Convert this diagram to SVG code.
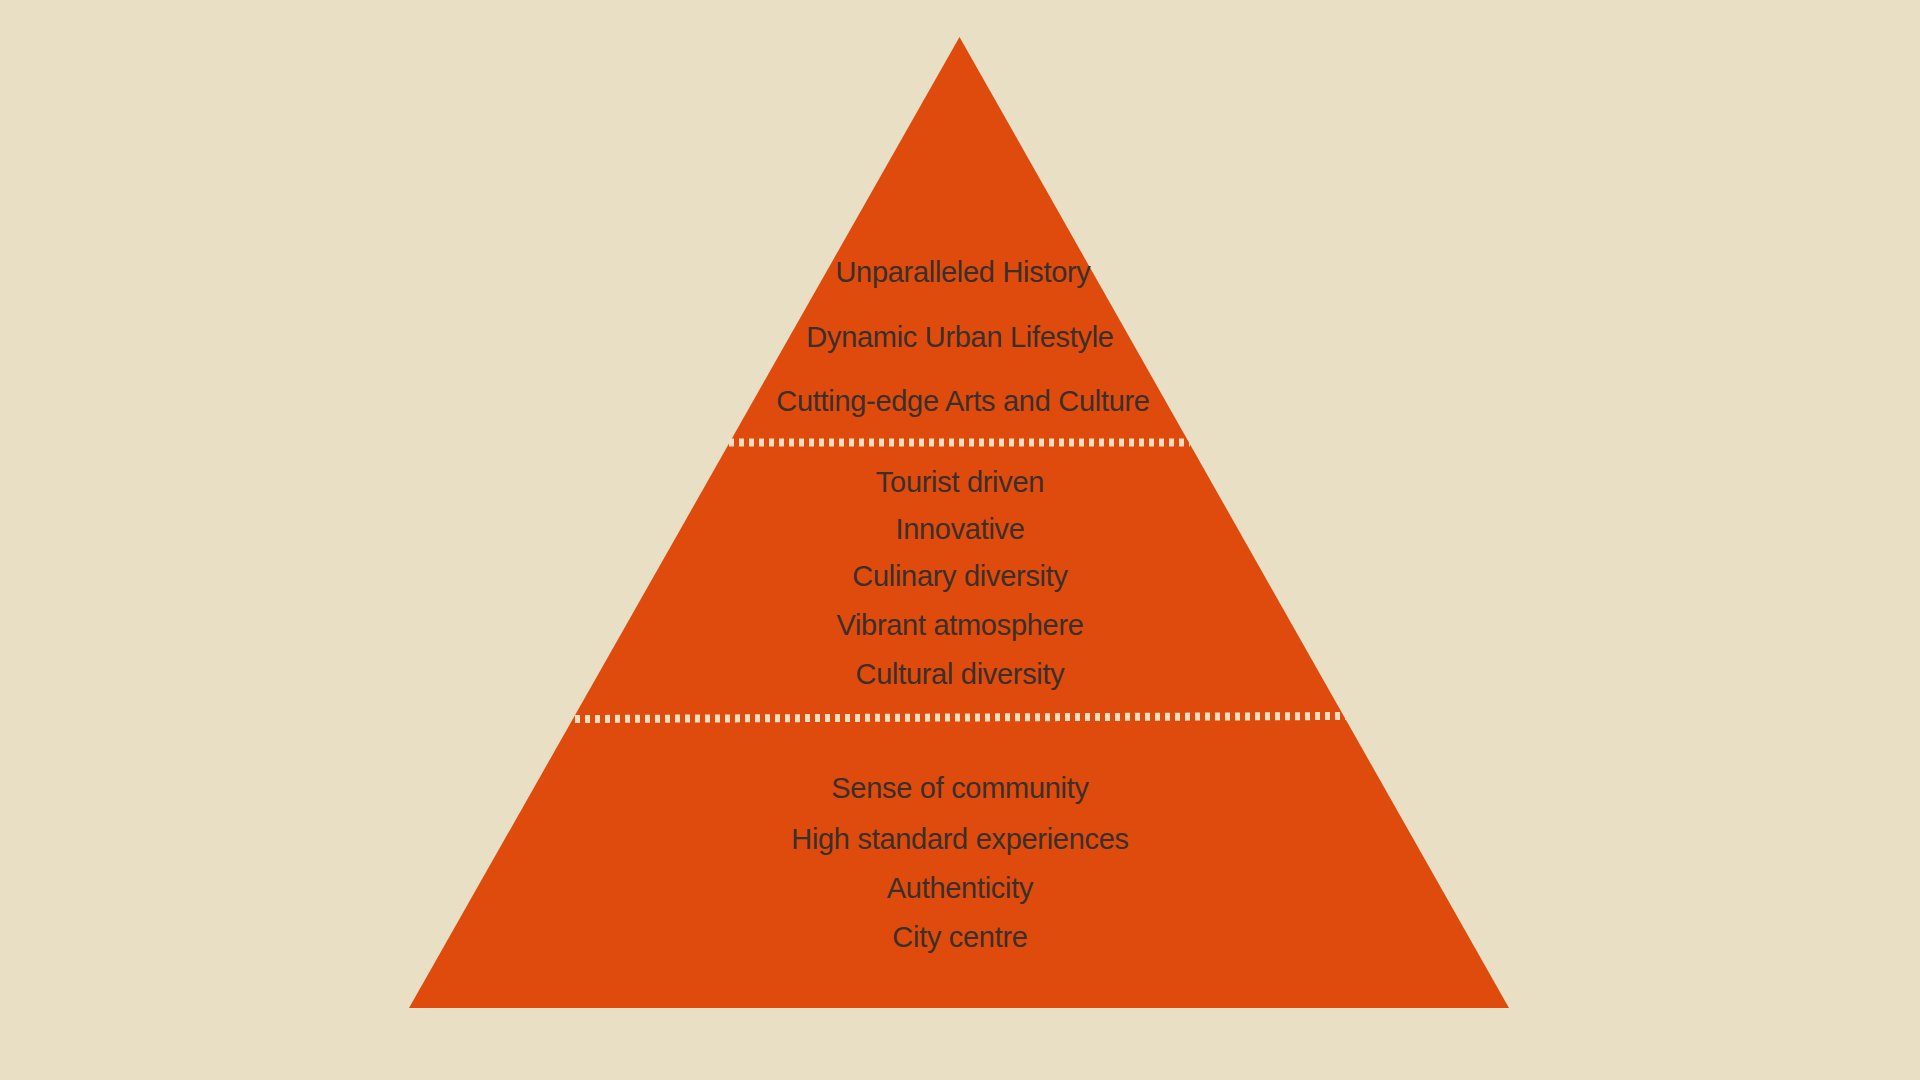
<svg xmlns="http://www.w3.org/2000/svg" width="1920" height="1080" viewBox="0 0 1920 1080">
<style>
.lbl{font-family:"Liberation Sans",Arial,Helvetica,sans-serif;font-size:29px;letter-spacing:-0.3px;fill:#3a2f2b;text-anchor:middle}
.div{stroke:#f4dfc1;stroke-width:8;stroke-dasharray:5 5;fill:none}
</style>
<rect width="1920" height="1080" fill="#e9dfc4"/>
<g id="pyramid">
<polygon points="959.5,37 1509,1008 409,1008" fill="#df4b0c"/>
</g>
<g id="connectors">
<line class="div" x1="729" y1="442.5" x2="1190" y2="442.5"/>
<line class="div" x1="575" y1="719" x2="1347" y2="716"/>
</g>
<g id="tier-top">
<text class="lbl" x="963" y="282">Unparalleled History</text>
<text class="lbl" x="960" y="347">Dynamic Urban Lifestyle</text>
<text class="lbl" x="963" y="411">Cutting-edge Arts and Culture</text>
</g>
<g id="tier-middle">
<text class="lbl" x="960" y="492">Tourist driven</text>
<text class="lbl" x="960" y="539">Innovative</text>
<text class="lbl" x="960" y="586">Culinary diversity</text>
<text class="lbl" x="960" y="635">Vibrant atmosphere</text>
<text class="lbl" x="960" y="684">Cultural diversity</text>
</g>
<g id="tier-bottom">
<text class="lbl" x="960" y="798">Sense of community</text>
<text class="lbl" x="960" y="849">High standard experiences</text>
<text class="lbl" x="960" y="898">Authenticity</text>
<text class="lbl" x="960" y="947">City centre</text>
</g>
</svg>
